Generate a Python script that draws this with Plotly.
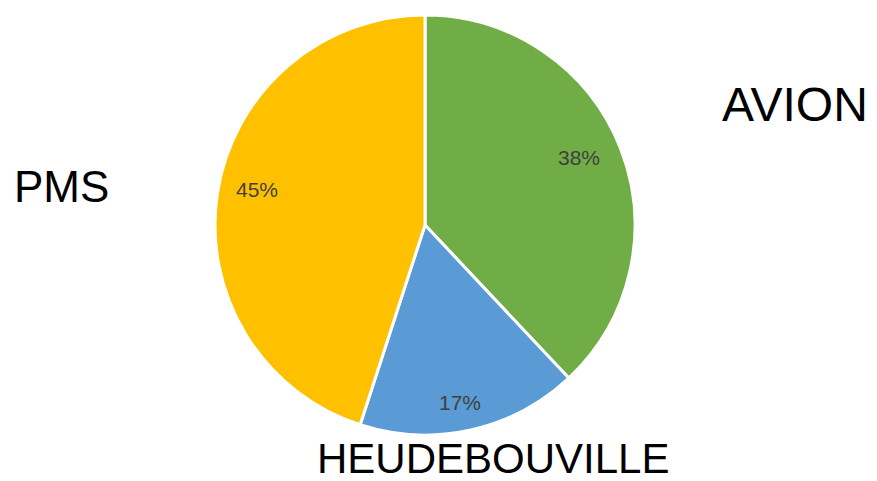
import math
import plotly.graph_objects as go

categories = ["AVION", "HEUDEBOUVILLE", "PMS"]
values = [38, 17, 45]
colors = ["#70AD47", "#5B9BD5", "#FFC000"]

W, H = 877, 481
cx, cy, R = 425, 225, 210
FONT = "Liberation Sans, Arial, sans-serif"
# label placement tweaks (radius fraction, angle nudge in degrees)
pct_place = {"AVION": (0.80, -2), "HEUDEBOUVILLE": (0.86, 1.5), "PMS": (0.82, 3)}

fig = go.Figure(go.Pie(
    labels=categories,
    values=values,
    sort=False,
    direction="clockwise",
    rotation=0,
    marker=dict(colors=colors, line=dict(color="white", width=3)),
    textinfo="none",
    hoverinfo="label+percent",
    showlegend=False,
    domain=dict(x=[(cx - R) / W, (cx + R) / W], y=[1 - (cy + R) / H, 1 - (cy - R) / H]),
))

# percentage labels placed along each slice bisector
total = sum(values)
cum = 0
for name, v in zip(categories, values):
    rf, nudge = pct_place[name]
    mid = (cum + v / 2) / total * 2 * math.pi + math.radians(nudge)
    cum += v
    r = rf * R
    px = cx + r * math.sin(mid)
    py = cy - r * math.cos(mid)
    fig.add_annotation(x=px / W, y=1 - py / H, xref="paper", yref="paper",
                       text=f"{round(100 * v / total)}%", showarrow=False,
                       xanchor="center", yanchor="middle",
                       font=dict(family=FONT, size=21, color="#404040"))

label_pos = {"AVION": (795, 105, 48), "HEUDEBOUVILLE": (493, 458, 42), "PMS": (61, 186, 44)}
for name in categories:
    x, y, s = label_pos[name]
    fig.add_annotation(x=x / W, y=1 - y / H, xref="paper", yref="paper", text=name,
                       showarrow=False, xanchor="center", yanchor="middle",
                       font=dict(family=FONT, size=s, color="black"))

fig.update_layout(width=W, height=H, margin=dict(l=0, r=0, t=0, b=0),
                  paper_bgcolor="white", plot_bgcolor="white")
fig.write_html("out.html", config={"displayModeBar": False},
               post_script="document.body.style.margin='0';")
